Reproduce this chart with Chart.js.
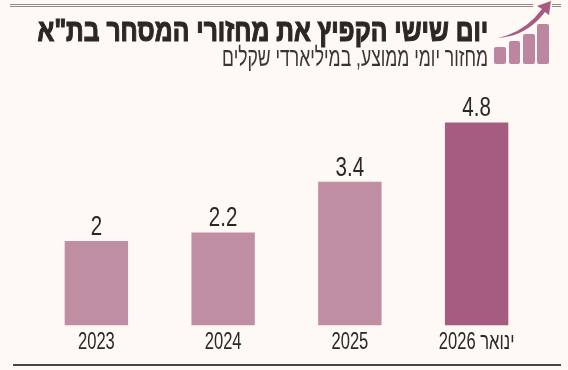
<!DOCTYPE html>
<html lang="he">
<head>
<meta charset="utf-8">
<script src="https://cdn.jsdelivr.net/npm/chart.js@4"></script>
<style>
    html, body { margin: 0; padding: 0; background: #fef9f5; }
    #wrap { position: relative; width: 568px; height: 370px; overflow: hidden; }
    #barChart { position: absolute; left: 0; top: 0; }
    #decor { position: absolute; left: 0; top: 0; }
    .head { position: absolute; right: 80px; direction: rtl; white-space: nowrap; transform-origin: right top; color: #2b2726; }
    #title { top: 12px; font: 700 32px "Liberation Sans", sans-serif; -webkit-text-stroke: 1.2px #2b2726; transform: scaleX(0.77); }
    #subtitle { top: 42px; font: 400 26px "Liberation Sans", sans-serif; color: #3a3534; transform: scaleX(0.675); }
</style>
</head>
<body>
<div id="wrap">
    <canvas id="barChart" width="568" height="370"></canvas>
    <svg id="decor" width="568" height="370">
        <path d="M10 4.5H533M10 6.5H533M552 4.5H561M552 6.5H561" stroke="#8f8a86" stroke-width="1" fill="none"/>
        <rect x="494" y="47" width="12" height="17" rx="2" fill="#bd86a0"/>
        <rect x="509" y="41" width="11" height="23" rx="2" fill="#bd86a0"/>
        <rect x="523" y="34" width="12" height="30" rx="2" fill="#bd86a0"/>
        <rect x="537" y="24" width="12" height="40" rx="2" fill="#bd86a0"/>
        <path d="M498 38 Q525 32 542 9 L537 6 L551 1 L549 15 L545 12 Q527 36 498 38 Z" fill="#a55c80"/>
        <rect x="13" y="364" width="548" height="2" fill="#4a4543"/>
    </svg>
    <div class="head" id="title">יום שישי הקפיץ את מחזורי המסחר בת"א</div>
    <div class="head" id="subtitle">מחזור יומי ממוצע, במיליארדי שקלים</div>
</div>
<script>
const categories = ['2023', '2024', '2025', 'ינואר 2026'];
const turnover = [2, 2.2, 3.4, 4.8];
const barColors = ['#bf8ea3', '#bf8ea3', '#bf8ea3', '#a55c80'];

// no condensed font here, so squeeze the text horizontally
function narrowText(ctx, text, x, y, squeeze) {
    ctx.save();
    ctx.translate(x, y);
    ctx.scale(squeeze, 1);
    ctx.fillText(text, 0, 0);
    ctx.restore();
}

// writes the value above every bar and the category under it
const barLabels = {
    id: 'barLabels',
    afterDatasetsDraw(chart) {
        const ctx = chart.ctx;
        const meta = chart.getDatasetMeta(0);
        const xScale = chart.scales.x;
        ctx.save();
        ctx.fillStyle = '#2b2726';
        ctx.textAlign = 'center';
        ctx.textBaseline = 'alphabetic';
        ctx.font = '27px "Liberation Sans", sans-serif';
        meta.data.forEach((bar, i) => {
            narrowText(ctx, String(turnover[i]), bar.x, bar.y - 6, 0.76);
        });
        ctx.font = '23px "Liberation Sans", sans-serif';
        categories.forEach((label, i) => {
            narrowText(ctx, label, xScale.getPixelForTick(i), 349, 0.72);
        });
        ctx.restore();
    }
};

new Chart(document.getElementById('barChart').getContext('2d'), {
    type: 'bar',
    data: {
        labels: categories,
        datasets: [{
            data: turnover,
            backgroundColor: barColors,
            categoryPercentage: 0.5,
            barPercentage: 1
        }]
    },
    options: {
        responsive: false,
        animation: false,
        layout: { padding: { left: 33, right: 28, top: 114, bottom: 36.5 } },
        plugins: { legend: { display: false }, tooltip: { enabled: false } },
        scales: {
            x: {
                grid: { display: false },
                border: { display: false },
                ticks: { display: false }
            },
            y: { display: false, min: 0, max: 5 }
        }
    },
    plugins: [barLabels]
});
</script>
</body>
</html>
